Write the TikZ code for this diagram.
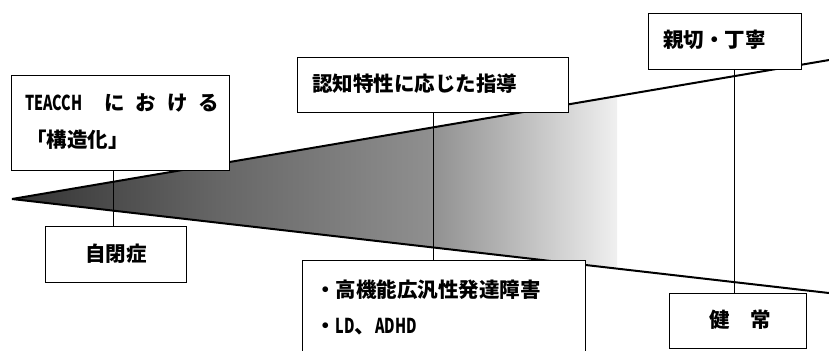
\documentclass[tikz,border=0pt]{standalone}
\usepackage{fontspec}
\usepackage{graphicx}
\newfontfamily\jp{Noto Sans CJK JP}
\pgfdeclarehorizontalshading{wedgeshade}{100bp}{%
  color(0bp)=(black!80); color(25bp)=(black!80); color(42bp)=(black!60);
  color(59.5bp)=(black!44); color(67bp)=(black!26); color(75bp)=(black!6);
  color(100bp)=(black!6)}
\newcommand{\cond}[1]{\scalebox{0.7}[1]{#1}}
\begin{document}
\begin{tikzpicture}[x=1bp,y=-1bp,
  box/.style={draw=black, line width=1.4bp, fill=white, inner sep=0pt},
  label/.style={inner sep=0pt, font=\jp\bfseries\fontsize{20.5bp}{24bp}\selectfont},
  wedgeline/.style={line width=2bp},
  link/.style={line width=1.3bp}]
\clip (0,0) rectangle (829,350);
\fill[white] (0,0) rectangle (829,350);
\coordinate (apex) at (12,199);
\coordinate (ur) at (835,59);
\coordinate (lr) at (835,293.7);
\begin{scope}
  \clip (apex) -- (ur) -- (lr) -- cycle;
  \shade[shading=wedgeshade] (12,0) rectangle (617,350);
\end{scope}
\draw[wedgeline] (apex) -- (ur);
\draw[wedgeline] (apex) -- (lr);
% boxes
\node[box, anchor=north west, minimum width=218bp, minimum height=95bp] (teacch) at (11,75) {};
\node[box, anchor=north west, minimum width=141bp, minimum height=56bp] (autism) at (45,226) {};
\node[box, anchor=north west, minimum width=271bp, minimum height=55bp] (ninchi) at (297,57) {};
\node[box, anchor=north west, minimum width=283bp, minimum height=97bp] (koukinou) at (302,260) {};
\node[box, anchor=north west, minimum width=153bp, minimum height=56bp] (shinsetsu) at (648,13) {};
\node[box, anchor=north west, minimum width=137bp, minimum height=55bp] (kenjo) at (669,293) {};
% texts
\node[label, anchor=west] (teacch1) at (25,103)
  {\cond{TEACCH}\hspace{22bp}に\hspace{11bp}お\hspace{11bp}け\hspace{11bp}る};
\node[label, anchor=west] (teacch2) at (26,140) {「構造化」};
\node[label] (autismt) at (116,254) {自閉症};
\node[label, anchor=west] (ninchit) at (312,84) {認知特性に応じた指導};
\node[label, anchor=west] (kouki1) at (315,290) {・高機能広汎性発達障害};
\node[label, anchor=west] (kouki2) at (315,327) {・\cond{LD}、\cond{ADHD}};
\node[label, anchor=west] (shinsetsut) at (663,40) {親切・丁寧};
\node[label] (kenjot) at (740,320) {健　常};
% connectors
\draw[link] ([xshift=-2.5pt]autism.north) -- ([xshift=-2.5pt]autism.north |- teacch.south);
\draw[link] (ninchi.south) -- (ninchi.south |- koukinou.north);
\draw[link] ([xshift=-3.5pt]kenjo.north) -- ([xshift=-3.5pt]kenjo.north |- shinsetsu.south);
\end{tikzpicture}
\end{document}
